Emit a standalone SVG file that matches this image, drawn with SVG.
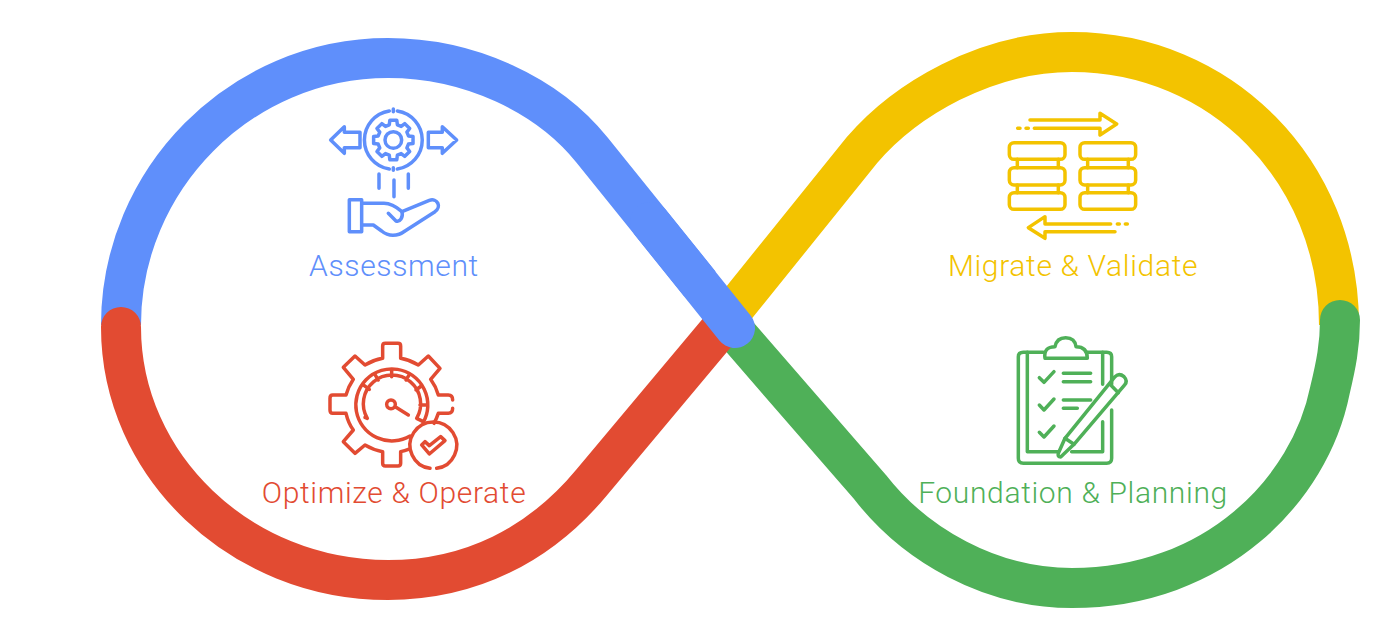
<svg xmlns="http://www.w3.org/2000/svg" width="1400" height="639" viewBox="0 0 1400 639">
<style>
.band{fill:none;stroke-width:40;stroke-linecap:round;stroke-linejoin:round}
.ic{fill:none;stroke-width:10.5;stroke-linecap:round;stroke-linejoin:round}
.lb{font-family:Roboto,"Liberation Sans",sans-serif;font-weight:300;font-size:30px;text-anchor:middle;letter-spacing:.65px}
.b{stroke:#5f8ffb}.y{stroke:#f3c300}.r{stroke:#e24b32}.g{stroke:#4fb058}
</style>
<rect width="1400" height="639" fill="#fff"/>
<g id="connectors">
<path class="band y" style="stroke-linecap:butt" d="M725 320 L862 150 C905 100 985 52 1072 52 C1220 52 1339 170 1339 325"/>
<path class="band g" d="M738 335 L870 487 C915 545 990 588 1072 588 C1215 588 1310 490 1330 390 C1336 365 1340 345 1340 320"/>
<path class="band b" style="stroke-linecap:butt" d="M121 325 C121 180 240 58 388 58 C470 58 548 95 592 150 L700 284"/>
<path class="band r" d="M121 327 C121 465 240 580 388 580 C470 580 540 545 592 482 L726 322"/>
<path class="band b" d="M650 222 L735 328"/>
</g>
<g id="assessment">
<g class="ic b" transform="translate(310 95) scale(.3333)">
<path d="M238 48A88 88 0 0 0 238 222M262 48A88 88 0 0 1 262 222M250 42V50M250 218V226"/>
<polygon transform="translate(250 135)" points="-12.2,-45.4 -10.4,-59.1 10.4,-59.1 12.2,-45.4 23.5,-40.7 34.4,-49.1 49.1,-34.4 40.7,-23.5 45.4,-12.2 59.1,-10.4 59.1,10.4 45.4,12.2 40.7,23.5 49.1,34.4 34.4,49.1 23.5,40.7 12.2,45.4 10.4,59.1 -10.4,59.1 -12.2,45.4 -23.5,40.7 -34.4,49.1 -49.1,34.4 -40.7,23.5 -45.4,12.2 -59.1,10.4 -59.1,-10.4 -45.4,-12.2 -40.7,-23.5 -49.1,-34.4 -34.4,-49.1 -23.5,-40.7"/>
<circle cx="250" cy="135" r="25"/>
<path d="M150 112H103V95L62 135 103 175V158H150Z M355 112H397V95L440 135 397 175V158H355Z"/>
<path d="M207 237V280M252 255V305M295 237V280"/>
<path d="M118 314H155V410H118Z"/>
<path d="M155 325H222C245 325 262 338 276 350L358 316C382 308 396 335 375 350L285 408C262 425 235 425 215 408L190 390H155"/>
<path d="M235 355L258 378C270 382 280 368 276 350"/>
</g>
<text class="lb" x="394" y="276" fill="#5f8ffb">Assessment</text>
</g>
<g id="migrate">
<g class="ic y" transform="translate(990 100) scale(.3333)">
<path d="M120 60H330V40L380 72 330 105V85H133M83 85H90M108 85H115"/>
<rect x="58" y="128" width="167" height="50" rx="14"/><rect x="58" y="203" width="167" height="52" rx="14"/><rect x="58" y="278" width="167" height="50" rx="14"/>
<rect x="270" y="128" width="167" height="50" rx="14"/><rect x="270" y="203" width="167" height="52" rx="14"/><rect x="270" y="278" width="167" height="50" rx="14"/>
<path d="M82 178V203M205 178V203M82 255V278M205 255V278M293 178V203M415 178V203M293 255V278M415 255V278"/>
<path d="M362 372H165V350L115 383 165 415V395H375M382 372H388M406 372H412"/>
</g>
<text class="lb" x="1073" y="276" fill="#f3c300">Migrate &amp; Validate</text>
</g>
<g id="optimize">
<g class="ic r" transform="translate(310 330) scale(.3333)">
<path d="M428 210Q428 195 415 195L385 195Q378 170 362 148L390 115 355 78 325 105Q300 90 272 85L272 48Q272 40 264 40L226 40Q218 40 218 48L218 85Q190 90 165 105L135 78 100 112 130 148Q115 170 108 195L68 195Q60 195 60 205L60 240Q60 250 68 250L108 250Q115 280 130 300L100 335 135 370 165 345Q190 360 218 365L218 400Q218 408 226 408L264 408Q272 408 272 400L272 365Q285 362 295 358M428 235Q428 250 415 250L385 250Q380 265 372 280"/>
<path d="M300 318A108 108 0 1 1 340 277"/>
<path d="M172 265A86 86 0 1 1 320 265M178 178L162 166M205 150L195 134M245 140V120M288 150L298 134M318 180L334 168M330 225H352M172 265L165 262M320 265L340 275"/>
<circle cx="243" cy="223" r="13"/><path d="M258 232L295 255"/>
<path d="M380 415A70 70 0 1 0 360 415"/>
<path d="M335 345L345 335 358 347 392 320 405 332 358 372Z"/>
</g>
<text class="lb" x="394" y="503" fill="#e24b32">Optimize &amp; Operate</text>
</g>
<g id="foundation">
<g class="ic g" transform="translate(1000 325) scale(.3333)">
<path d="M130 82H70Q55 82 55 95V400Q55 415 70 415H320Q335 415 335 400V255M335 178V95Q335 82 320 82H262"/>
<path d="M82 82V380H175M215 380H308V290M308 82V178"/>
<path d="M135 100Q130 65 165 65Q170 38 197 38Q225 38 228 65Q262 65 262 100Z"/>
<path d="M118 158L132 172 162 140M118 240L132 255 162 222M118 322L132 336 162 303M190 145H272M190 170H272M190 225H272M190 250H232"/>
<path d="M195 340L345 155Q358 143 372 155 384 168 374 180L222 358 182 396Q172 396 175 385Z"/>
<path d="M195 340L222 358M330 178L355 203"/>
</g>
<text class="lb" x="1073" y="503" fill="#4fb058">Foundation &amp; Planning</text>
</g>
</svg>
